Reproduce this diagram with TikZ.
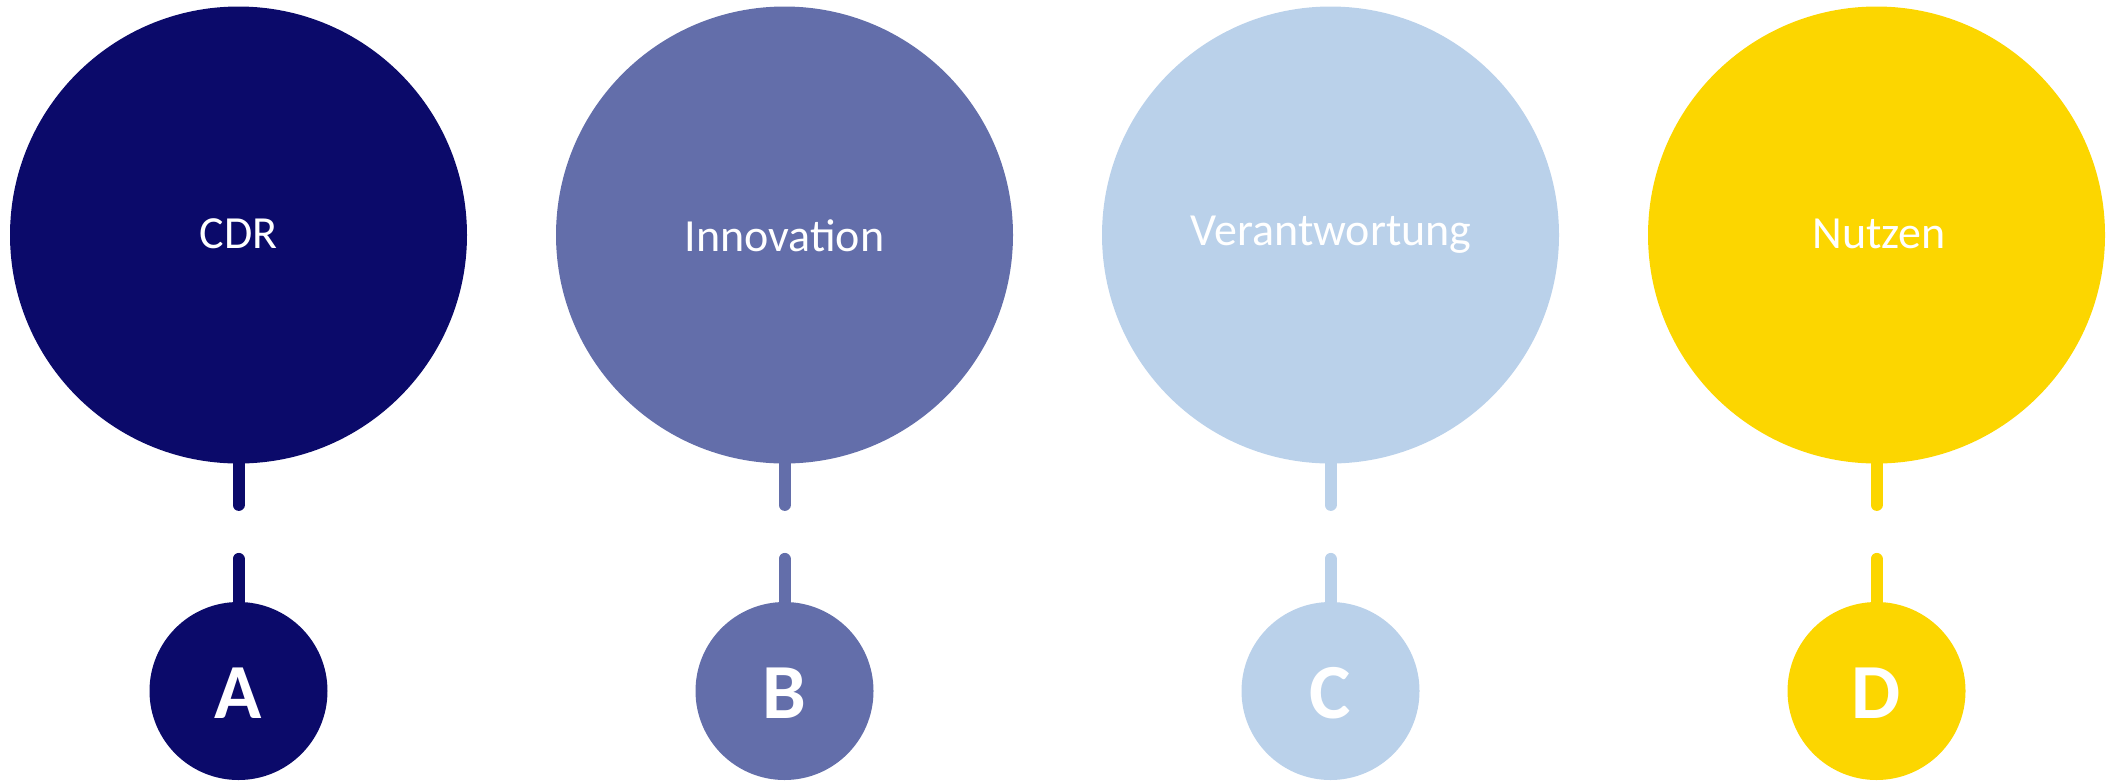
\documentclass[tikz,border=0pt]{standalone}
\usepackage{fontspec}
\setmainfont{Carlito}
\definecolor{cA}{HTML}{0B0A6A}
\definecolor{cB}{HTML}{636EAA}
\definecolor{cC}{HTML}{BAD1EA}
\definecolor{cD}{HTML}{FCD600}
\begin{document}
\begin{tikzpicture}[x=0.5pt,y=-0.5pt,
  big/.style={circle,minimum size=228.5pt,inner sep=0pt,fill=#1},
  small/.style={circle,minimum size=89pt,inner sep=0pt,fill=#1},
  title/.style={text=white,font=\fontsize{23}{27}\selectfont,anchor=base,inner sep=0pt},
  letter/.style={text=white,font=\fontsize{39}{46}\selectfont\bfseries,anchor=base,inner sep=0pt},
  link/.style={draw=#1,line width=6pt,line cap=round,dash pattern=on 20.5pt off 27pt on 200pt}]
\useasboundingbox (0,0) rectangle (2112,782);
% big circles
\node[big=cA] (b1) at (238.5,235) {};
\node[big=cB] (b2) at (784.5,235) {};
\node[big=cC] (b3) at (1330.5,235) {};
\node[big=cD] (b4) at (1876.5,235) {};
% small circles
\node[small=cA] (s1) at (238.5,691) {};
\node[small=cB] (s2) at (784.5,691) {};
\node[small=cC] (s3) at (1330.5,691) {};
\node[small=cD] (s4) at (1876.5,691) {};
% titles
\node[title] (t1) at (238.5,248) {CDR};
\node[title] (t2) at (784.5,251) {Innovation};
\node[title] (t3) at (1331,245) {Verantwortung};
\node[title] (t4) at (1879,248) {Nutzen};
% letters
\node[letter] (l1) at (238.5,718) {A};
\node[letter] (l2) at (784.5,718) {B};
\node[letter] (l3) at (1330.5,718) {C};
\node[letter] (l4) at (1876.5,718) {D};
% links
\draw[link=cA] (b1.south) -- (s1.north);
\draw[link=cB] (b2.south) -- (s2.north);
\draw[link=cC] (b3.south) -- (s3.north);
\draw[link=cD] (b4.south) -- (s4.north);
\end{tikzpicture}
\end{document}
